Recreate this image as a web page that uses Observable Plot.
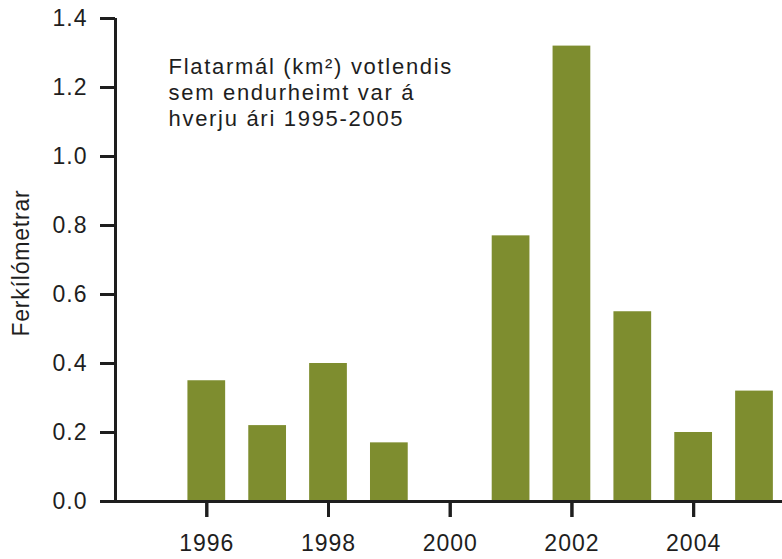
<!DOCTYPE html>
<html>
<head>
<meta charset="utf-8">
<script src="https://cdn.jsdelivr.net/npm/d3@7"></script>
<script src="https://cdn.jsdelivr.net/npm/@observablehq/plot@0.6"></script>
<style>
  html, body { margin: 0; padding: 0; background: #fff; }
  svg { display: block; }
  svg g[aria-label="y-axis tick label"] text,
  svg g[aria-label="x-axis tick label"] text { letter-spacing: 1px; }
  svg g.ylabel text { letter-spacing: 0.8px; }
  svg g.title text { letter-spacing: 1.7px; }
</style>
</head>
<body>
<div id="chart"></div>
<script>
const years = [1995, 1996, 1997, 1998, 1999, 2000, 2001, 2002, 2003, 2004, 2005];
const values = [0, 0.35, 0.22, 0.40, 0.17, 0, 0.77, 1.32, 0.55, 0.20, 0.32];
const yTicks = [0, 0.2, 0.4, 0.6, 0.8, 1.0, 1.2, 1.4];
const xTicks = [1996, 1998, 2000, 2002, 2004];
const titleLines = ["Flatarmál (km²) votlendis", "sem endurheimt var á", "hverju ári 1995-2005"];
const yLabel = "Ferkílómetrar";

const data = years.map((year, i) => ({year, value: values[i]}));
const barColor = "#7e8d2f";
const ink = "#1e1e1e";

const chart = Plot.plot({
  width: 782,
  height: 559,
  marginLeft: 115,
  marginRight: 0,
  marginTop: 18,
  marginBottom: 58,
  style: {fontFamily: "'Liberation Sans', Arial, Helvetica, sans-serif", fontSize: "23px", color: ink, background: "#fff"},
  x: {domain: [1994.5, 2005.46], axis: null},
  y: {domain: [0, 1.4], axis: null},
  marks: [
    Plot.rectY(data.filter(d => d.value > 0), {
      x1: d => d.year - 0.31,
      x2: d => d.year + 0.31,
      y1: 0,
      y2: "value",
      fill: barColor
    }),
    Plot.axisY(yTicks, {
      tickFormat: d3.format(".1f"),
      tickSize: 15,
      tickPadding: 13,
      strokeWidth: 3,
      stroke: ink,
      fontSize: 23,
      fill: ink,
      label: null
    }),
    Plot.axisX(xTicks, {
      anchor: "bottom",
      tickFormat: d => String(d),
      tickSize: 16,
      tickPadding: 17,
      strokeWidth: 3,
      stroke: ink,
      fontSize: 23,
      fill: ink,
      label: null
    }),
    Plot.ruleX(xTicks, {y1: 0, y2: 0, insetBottom: -16, stroke: ink, strokeWidth: 3}),
    Plot.ruleX([1994.5], {y1: 0, y2: 1.4, stroke: ink, strokeWidth: 3}),
    Plot.ruleY([0], {insetLeft: -15, stroke: ink, strokeWidth: 3}),
    Plot.text([yLabel], {
      frameAnchor: "left",
      textAnchor: "middle",
      dx: -94,
      dy: 3,
      rotate: -90,
      fontSize: 23,
      fill: ink,
      className: "ylabel"
    }),
    Plot.text([titleLines.join("\n")], {
      frameAnchor: "top-left",
      textAnchor: "start",
      lineAnchor: "top",
      dx: 53,
      dy: 37,
      fontSize: 22,
      lineHeight: 1.19,
      fill: ink,
      className: "title"
    })
  ]
});

document.getElementById("chart").appendChild(chart);
</script>
</body>
</html>
